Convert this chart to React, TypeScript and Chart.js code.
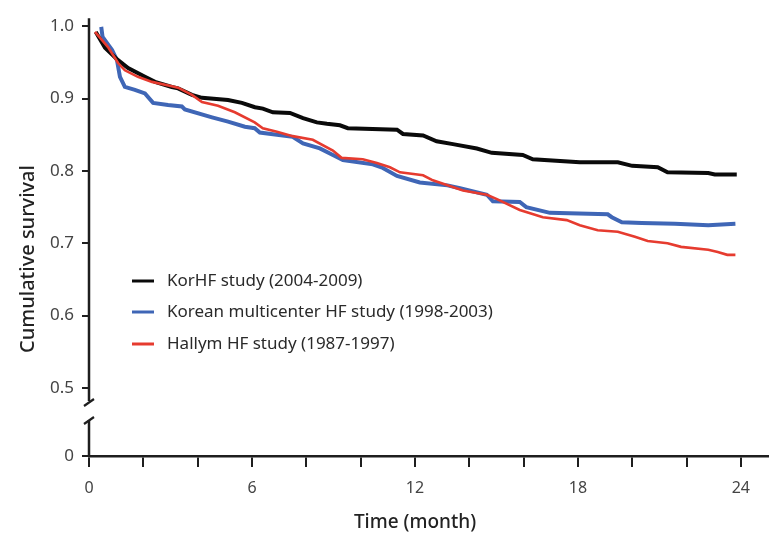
import React, { useEffect, useRef } from "react";
import { Chart, registerables } from "chart.js";

Chart.register(...registerables);

const seriesLabels = [
  "KorHF study (2004-2009)",
  "Korean multicenter HF study (1998-2003)",
  "Hallym HF study (1987-1997)",
];

const korhfMonths = [0.25, 0.59, 1.07, 1.44, 2.06, 2.43, 3.05, 3.28, 3.79, 4.16, 5.12, 5.63, 6.11, 6.4, 6.77, 7.4, 7.88, 8.39, 8.76, 9.24, 9.53, 11.34, 11.56, 12.3, 12.8, 13.4, 14.28, 14.83, 15.97, 16.34, 18.07, 19.47, 20.0, 20.94, 21.3, 22.8, 23.04, 23.85];
const korhfSurvival = [0.992, 0.970, 0.953, 0.942, 0.930, 0.923, 0.916, 0.914, 0.905, 0.901, 0.898, 0.894, 0.888, 0.886, 0.881, 0.880, 0.873, 0.867, 0.865, 0.863, 0.859, 0.857, 0.851, 0.849, 0.841, 0.837, 0.831, 0.825, 0.822, 0.816, 0.812, 0.812, 0.807, 0.805, 0.798, 0.797, 0.795, 0.795];

const multiMonths = [0.45, 0.5, 0.85, 1.03, 1.14, 1.32, 1.69, 2.06, 2.36, 2.91, 3.42, 3.53, 4.53, 5.12, 5.74, 6.1, 6.29, 7.5, 7.88, 8.5, 8.98, 9.35, 10.45, 10.82, 11.34, 12.18, 13.2, 13.66, 14.65, 14.87, 15.86, 16.1, 16.97, 19.1, 19.25, 19.62, 20.35, 21.57, 22.8, 23.8];
const multiSurvival = [0.999, 0.985, 0.967, 0.953, 0.930, 0.916, 0.912, 0.907, 0.894, 0.891, 0.889, 0.885, 0.874, 0.868, 0.861, 0.859, 0.853, 0.847, 0.838, 0.831, 0.822, 0.815, 0.809, 0.804, 0.793, 0.784, 0.780, 0.776, 0.767, 0.758, 0.757, 0.750, 0.742, 0.740, 0.736, 0.729, 0.728, 0.727, 0.725, 0.727];

const hallymMonths = [0.22, 0.7, 1.07, 1.32, 1.8, 2.32, 3.05, 3.28, 3.79, 4.16, 4.75, 5.37, 6.1, 6.4, 6.92, 7.5, 8.24, 8.98, 9.3, 10.08, 10.6, 11.08, 11.45, 12.3, 12.66, 13.77, 14.65, 15.02, 15.86, 16.71, 17.59, 18.07, 18.73, 19.47, 20.1, 20.57, 21.3, 21.8, 22.8, 23.15, 23.5, 23.8];
const hallymSurvival = [0.992, 0.971, 0.949, 0.939, 0.930, 0.923, 0.917, 0.915, 0.905, 0.895, 0.890, 0.881, 0.867, 0.859, 0.854, 0.848, 0.843, 0.828, 0.818, 0.816, 0.811, 0.805, 0.798, 0.794, 0.787, 0.773, 0.767, 0.761, 0.746, 0.736, 0.732, 0.725, 0.718, 0.716, 0.709, 0.703, 0.700, 0.695, 0.691, 0.688, 0.684, 0.684];

const xTickValues = [0, 2, 4, 6, 8, 10, 12, 14, 16, 18, 20, 22, 24];
const xLabeledTicks = [0, 6, 12, 18, 24];
const yTickValues = [0.406, 0.5, 0.6, 0.7, 0.8, 0.9, 1.0];
const yZeroValue = 0.406; // position where the broken axis shows "0"

const toPoints = (xs: number[], ys: number[]) => xs.map((x, i) => ({ x, y: ys[i] }));

const AXIS_COLOR = "#1e1e1e";

const decorPlugin = {
  id: "decor",
  afterDraw(chart: any) {
    const { ctx, chartArea, scales } = chart;
    const ys = scales.y;
    const L = chartArea.left;
    const y05 = ys.getPixelForValue(0.5);
    const yBottom = ys.getPixelForValue(yZeroValue);
    const b1 = y05 + 15;
    const b2 = y05 + 33;
    ctx.save();
    ctx.strokeStyle = AXIS_COLOR;
    ctx.lineWidth = 2.5;
    ctx.lineCap = "butt";
    ctx.beginPath();
    ctx.moveTo(L, chartArea.top);
    ctx.lineTo(L, b1 - 2);
    ctx.moveTo(L, b2 - 1);
    ctx.lineTo(L, yBottom);
    ctx.stroke();
    ctx.lineWidth = 2.2;
    ctx.beginPath();
    ctx.moveTo(L - 5, b1 + 3);
    ctx.lineTo(L + 5, b1 - 4);
    ctx.moveTo(L - 5, b2 + 3);
    ctx.lineTo(L + 5, b2 - 4);
    ctx.stroke();

    // axis titles
    ctx.fillStyle = "#222";
    ctx.textAlign = "center";
    ctx.textBaseline = "middle";
    ctx.font = "500 19px 'Noto Sans'";
    ctx.fillText("Time (month)", 415, 523);
    ctx.save();
    ctx.translate(28, 259);
    ctx.rotate(-Math.PI / 2);
    ctx.font = "500 20px 'Noto Sans'";
    ctx.fillText("Cumulative survival", 0, 0);
    ctx.restore();

    // legend
    const legendY = [281, 312, 344];
    ctx.font = "17px 'Noto Sans'";
    ctx.textAlign = "left";
    chart.data.datasets.forEach((ds: any, i: number) => {
      const y = legendY[i];
      ctx.strokeStyle = ds.borderColor;
      ctx.lineWidth = 3;
      ctx.beginPath();
      ctx.moveTo(132, y);
      ctx.lineTo(154, y);
      ctx.stroke();
      ctx.fillStyle = "#2a2a2a";
      ctx.fillText(ds.label, 167, y);
    });
    ctx.restore();
  },
};

export default function App() {
  const ref = useRef<HTMLCanvasElement | null>(null);

  useEffect(() => {
    if (!ref.current) return;
    const chart = new Chart(ref.current, {
      type: "line",
      data: {
        datasets: [
          {
            label: seriesLabels[0],
            data: toPoints(korhfMonths, korhfSurvival),
            borderColor: "#0a0a0a",
            borderWidth: 4,
            pointRadius: 0,
            tension: 0,
            order: 1,
          },
          {
            label: seriesLabels[1],
            data: toPoints(multiMonths, multiSurvival),
            borderColor: "#3f66b6",
            borderWidth: 4,
            pointRadius: 0,
            tension: 0,
            order: 2,
          },
          {
            label: seriesLabels[2],
            data: toPoints(hallymMonths, hallymSurvival),
            borderColor: "#e63b2f",
            borderWidth: 2.6,
            pointRadius: 0,
            tension: 0,
            order: 0,
          },
        ],
      },
      options: {
        responsive: false,
        animation: false,
        devicePixelRatio: 1,
        layout: { padding: { top: 18, right: 9, left: 0, bottom: 0 } },
        plugins: { legend: { display: false }, tooltip: { enabled: false } },
        scales: {
          x: {
            type: "linear",
            min: 0,
            max: 25,
            afterBuildTicks: (scale: any) => {
              scale.ticks = xTickValues.map((v) => ({ value: v }));
            },
            afterFit: (scale: any) => {
              scale.height = 101;
            },
            ticks: {
              autoSkip: false,
              maxRotation: 0,
              padding: 12,
              color: "#444",
              font: { family: "'Noto Sans'", size: 16 },
              callback: (v: any) => (xLabeledTicks.includes(Number(v)) ? String(v) : ""),
            },
            grid: {
              drawOnChartArea: false,
              drawTicks: true,
              tickLength: 11,
              color: AXIS_COLOR,
              lineWidth: 2,
            },
            border: { display: true, color: AXIS_COLOR, width: 2.5 },
          },
          y: {
            type: "linear",
            min: yZeroValue,
            max: 1.011,
            afterBuildTicks: (scale: any) => {
              scale.ticks = yTickValues.map((v) => ({ value: v }));
            },
            afterFit: (scale: any) => {
              scale.width = 89;
            },
            ticks: {
              autoSkip: false,
              padding: 8,
              color: "#444",
              font: { family: "'Noto Sans'", size: 17 },
              callback: (v: any) => (Number(v) < 0.45 ? "0" : Number(v).toFixed(1)),
            },
            grid: {
              drawOnChartArea: false,
              drawTicks: true,
              tickLength: 7,
              color: AXIS_COLOR,
              lineWidth: 2,
            },
            border: { display: false },
          },
        },
      },
      plugins: [decorPlugin],
    } as any);
    return () => chart.destroy();
  }, []);

  return (
    <div style={{ position: "absolute", left: 0, top: 0, width: 777, height: 557, background: "#fff" }}>
      <canvas ref={ref} width={777} height={557} style={{ display: "block", width: 777, height: 557 }} />
    </div>
  );
}
